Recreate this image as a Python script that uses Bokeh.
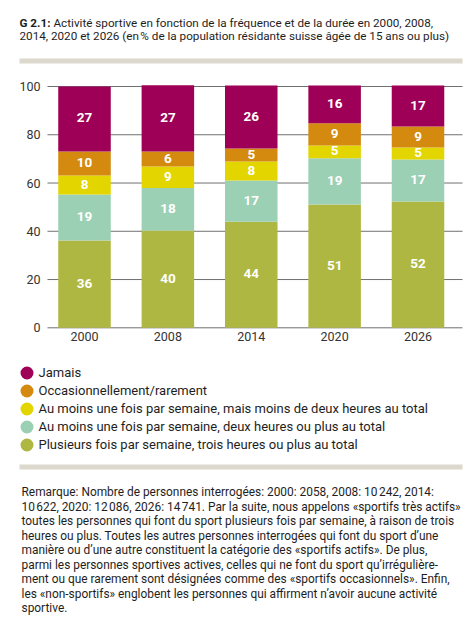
import numpy as np
from bokeh.plotting import figure
from bokeh.models import (ColumnDataSource, FixedTicker, Legend, LegendItem,
                          Label, BoxAnnotation, LinearAxis)
from bokeh.core.properties import value
from bokeh.embed import file_html
from bokeh.resources import INLINE

years = ["2000", "2008", "2014", "2020", "2026"]
# stacked bottom -> top
plusieurs = [36.2, 40.3, 44.0, 51.1, 52.3]
deux_heures = [19.0, 17.6, 17.0, 19.2, 17.4]
moins_deux = [7.9, 8.9, 7.9, 5.2, 5.0]
occasion = [10.0, 6.3, 5.4, 9.3, 8.7]
jamais = [26.9, 27.4, 26.1, 15.6, 17.0]

series_keys = ["plusieurs", "deux_heures", "moins_deux", "occasion", "jamais"]
series_vals = [plusieurs, deux_heures, moins_deux, occasion, jamais]
series_labels = [
    "Plusieurs fois par semaine, trois heures ou plus au total",
    "Au moins une fois par semaine, deux heures ou plus au total",
    "Au moins une fois par semaine, mais moins de deux heures au total",
    "Occasionnellement/rarement",
    "Jamais",
]
colors = ["#aeb741", "#9cd0b4", "#e2d500", "#d4890f", "#9d0056"]
yticks = [0, 20, 40, 60, 80, 100]

title_bold = "G 2.1:"
title_l1 = "Activité sportive en fonction de la fréquence et de la durée en 2000, 2008,"
title_l2 = "2014, 2020 et 2026 (en\u202f% de la population résidante suisse âgée de 15 ans ou plus)"
remark_lines = [
    "Remarque: Nombre de personnes interrogées: 2000: 2058, 2008: 10\u202f242, 2014:",
    "10\u202f622, 2020: 12\u202f086, 2026: 14\u202f741. Par la suite, nous appelons «sportifs très actifs»",
    "toutes les personnes qui font du sport plusieurs fois par semaine, à raison de trois",
    "heures ou plus. Toutes les autres personnes interrogées qui font du sport d’une",
    "manière ou d’une autre constituent la catégorie des «sportifs actifs». De plus,",
    "parmi les personnes sportives actives, celles qui ne font du sport qu’irrégulière-",
    "ment ou que rarement sont désignées comme des «sportifs occasionnels». Enfin,",
    "les «non-sportifs» englobent les personnes qui affirment n’avoir aucune activité",
    "sportive.",
]

FONT = "Roboto"
TXT = "#1e1e1e"
FS_LEG = "13px"
FS_TITLE = "11.7px"
FS_REM = "11.9px"
W, H = 466, 622

# chart geometry (pixels in the canvas)
X0_PX, DX_PX = 84.0, 83.375          # centre of first bar, bar spacing
Y0_PX, PX_PER_UNIT = 327.3, 2.413    # baseline, px per percent
chart_x_start, chart_x_end = -0.444, 4.534

xs = list(range(len(years)))
data = {"x": xs}
for k, v in zip(series_keys, series_vals):
    data[k] = v
arr = np.array(series_vals)
cum = np.cumsum(arr, axis=0)
mids = cum - arr / 2.0
for i, k in enumerate(series_keys):
    data[k + "_mid"] = list(mids[i])
source = ColumnDataSource(data)

x_range = (-X0_PX / DX_PX, (W - X0_PX) / DX_PX)
y_range = (-(H - Y0_PX) / PX_PER_UNIT, Y0_PX / PX_PER_UNIT)

p = figure(width=W, height=H, output_backend="svg", toolbar_location=None,
           x_range=x_range, y_range=y_range, x_axis_type=None, y_axis_type=None,
           min_border=0, min_border_left=0, min_border_right=0,
           min_border_top=0, min_border_bottom=0)
p.outline_line_color = None
p.grid.visible = False
p.background_fill_color = "white"
p.border_fill_color = "white"

# horizontal grid lines at the y ticks
p.segment(x0=[chart_x_start] * len(yticks), x1=[chart_x_end] * len(yticks),
          y0=yticks, y1=yticks, line_color="#707070", line_width=1)

p.vbar_stack(series_keys, x="x", width=0.63, color=colors, line_color=None,
             source=source)

lx, ly, lt = [], [], []
for i in range(len(series_keys)):
    for j in range(len(years)):
        lx.append(xs[j]); ly.append(mids[i][j]); lt.append(str(int(round(arr[i][j]))))
lsrc = ColumnDataSource(dict(x=lx, y=ly, t=lt))
p.text(x="x", y="y", text="t", source=lsrc, text_align="center",
       text_baseline="middle", text_color="white", text_font=value(FONT),
       text_font_style="bold", text_font_size="13.5px", y_offset=-1)

xaxis = LinearAxis(ticker=FixedTicker(ticks=xs), fixed_location=0,
                   major_label_overrides={i: y for i, y in enumerate(years)})
yaxis = LinearAxis(ticker=FixedTicker(ticks=yticks), fixed_location=chart_x_start)
for ax in (xaxis, yaxis):
    ax.axis_line_color = None
    ax.major_tick_line_color = None
    ax.minor_tick_line_color = None
    ax.major_tick_in = 0
    ax.major_tick_out = 0
    ax.major_label_text_font = FONT
    ax.major_label_text_font_size = "12.5px"
    ax.major_label_text_color = "#333333"
xaxis.major_label_standoff = 4
yaxis.major_label_standoff = 7
p.add_layout(xaxis, "below")
p.add_layout(yaxis, "left")

# legend with circle swatches (hidden scatter renderers)
items = []
for i in reversed(range(len(series_keys))):
    r = p.scatter(x="x", y=series_keys[i] + "_mid", source=source, marker="circle",
                  size=6, fill_color=colors[i], line_color=colors[i],
                  line_width=7, visible=False)
    items.append(LegendItem(label=series_labels[i], renderers=[r]))
GH, SP = 15, 3
leg_h = 5 * GH + 4 * SP
leg_top = 372.7 - GH / 2
legend = Legend(items=items, location=(26 - GH / 2, H - leg_top - leg_h), padding=0,
                margin=0, spacing=SP, glyph_width=GH, glyph_height=GH, label_height=GH,
                label_standoff=5, border_line_color=None,
                background_fill_alpha=0, label_text_font=FONT,
                label_text_font_size=FS_LEG, label_text_color=TXT)
p.add_layout(legend, "center")


def sy(y_px):
    return H - y_px


for top, bot in ((58, 63), (464, 469)):
    p.add_layout(BoxAnnotation(left=19, right=462, top=sy(top), bottom=sy(bot),
                               left_units="screen", right_units="screen",
                               top_units="screen", bottom_units="screen",
                               fill_color="#dcd8cd", fill_alpha=1, line_color=None))


def text_label(x, y_mid, text, size, bold=False):
    return Label(x=x, y=sy(y_mid), x_units="screen", y_units="screen", text=text,
                 text_font=FONT, text_font_style="bold" if bold else "normal",
                 text_font_size=size, text_color=TXT, text_baseline="middle")


p.add_layout(text_label(19, 22.3, title_bold, FS_TITLE, bold=True))
p.add_layout(text_label(53, 22.3, title_l1, FS_TITLE))
p.add_layout(text_label(19, 35.6, title_l2, FS_TITLE))

for k, line in enumerate(remark_lines):
    p.add_layout(text_label(21, 491.6 + 14.5 * k, line, FS_REM))

open("out.html", "w").write(file_html(p, INLINE))
